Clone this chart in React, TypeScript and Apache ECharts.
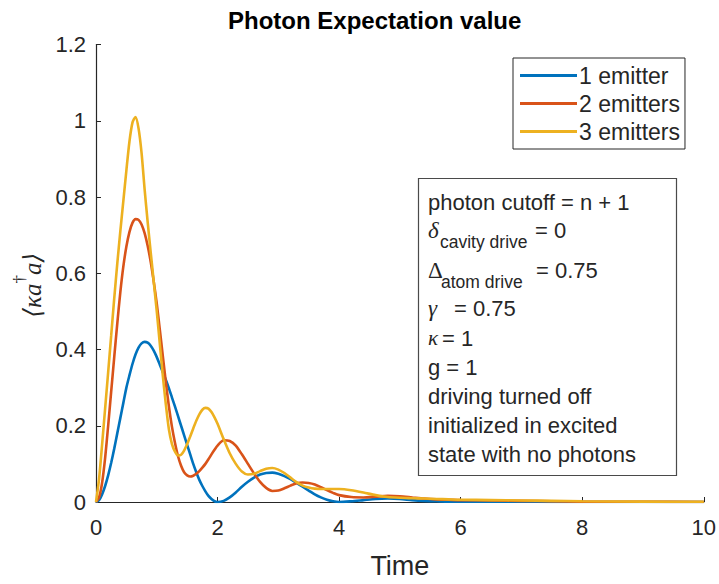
import React, { useEffect, useRef } from "react";
import * as echarts from "echarts";

// time samples (shared by all series)
const TIME = [
  0, 0.05, 0.1, 0.15, 0.2, 0.25, 0.3, 0.35, 0.4, 0.45,
  0.5, 0.55, 0.6, 0.65, 0.7, 0.75, 0.8, 0.85, 0.9, 0.95,
  1.0, 1.05, 1.1, 1.15, 1.2, 1.25, 1.3, 1.35, 1.4, 1.45,
  1.5, 1.55, 1.6, 1.65, 1.7, 1.75, 1.8, 1.85, 1.9, 1.95,
  2.0, 2.1, 2.2, 2.3, 2.4, 2.5, 2.6, 2.7, 2.8, 2.9,
  3.0, 3.1, 3.2, 3.3, 3.4, 3.5, 3.6, 3.7, 3.8, 3.9,
  4.0, 4.2, 4.4, 4.6, 4.8, 5.0, 5.2, 5.4, 5.6, 5.8,
  6.0, 6.5, 7.0, 7.5, 8.0, 9.0, 10.0,
];

const ONE_EMITTER = [
  0, 0.005, 0.02, 0.042, 0.07, 0.103, 0.14, 0.18, 0.22, 0.26,
  0.3, 0.332, 0.362, 0.387, 0.405, 0.416, 0.42, 0.418, 0.41, 0.397,
  0.38, 0.36, 0.34, 0.32, 0.298, 0.274, 0.25, 0.225, 0.2, 0.175,
  0.15, 0.125, 0.1, 0.078, 0.058, 0.042, 0.028, 0.016, 0.008, 0.002,
  0.0, 0.003, 0.012, 0.025, 0.04, 0.053, 0.064, 0.072, 0.076, 0.077,
  0.074, 0.068, 0.06, 0.05, 0.04, 0.03, 0.02, 0.012, 0.006, 0.002,
  0.0, 0.002, 0.005, 0.008, 0.009, 0.008, 0.005, 0.003, 0.002, 0.001,
  0.001, 0.001, 0.001, 0, 0, 0, 0,
];

const TWO_EMITTERS = [
  0, 0.012, 0.05, 0.115, 0.2, 0.29, 0.38, 0.468, 0.55, 0.618,
  0.67, 0.708, 0.732, 0.742, 0.74, 0.728, 0.705, 0.672, 0.63, 0.578,
  0.52, 0.452, 0.382, 0.313, 0.25, 0.197, 0.155, 0.12, 0.095, 0.078,
  0.07, 0.067, 0.069, 0.074, 0.081, 0.09, 0.1, 0.112, 0.125, 0.137,
  0.148, 0.162, 0.16, 0.148, 0.125, 0.1, 0.075, 0.053, 0.037, 0.029,
  0.03, 0.036, 0.043, 0.049, 0.051, 0.05, 0.046, 0.039, 0.031, 0.024,
  0.018, 0.013, 0.012, 0.014, 0.016, 0.015, 0.012, 0.009, 0.007, 0.006,
  0.005, 0.004, 0.003, 0.002, 0.001, 0.0005, 0,
];

const THREE_EMITTERS = [
  0, 0.06, 0.15, 0.245, 0.34, 0.437, 0.534, 0.625, 0.71, 0.79,
  0.87, 0.945, 0.995, 1.01, 0.98, 0.915, 0.82, 0.735, 0.655, 0.578,
  0.5, 0.415, 0.33, 0.255, 0.19, 0.152, 0.132, 0.122, 0.124, 0.135,
  0.152, 0.172, 0.193, 0.213, 0.23, 0.242, 0.247, 0.245, 0.236, 0.222,
  0.205, 0.165, 0.128, 0.1, 0.08, 0.072, 0.074, 0.081, 0.087, 0.089,
  0.085, 0.076, 0.064, 0.052, 0.043, 0.038, 0.035, 0.034, 0.034, 0.034,
  0.034, 0.031, 0.025, 0.018, 0.013, 0.011, 0.01, 0.009, 0.008, 0.007,
  0.006, 0.005, 0.004, 0.003, 0.002, 0.001, 0.0005,
];

const SERIES_NAMES = ["1 emitter", "2 emitters", "3 emitters"];
const SERIES_VALUES = [ONE_EMITTER, TWO_EMITTERS, THREE_EMITTERS];
const COLORS = ["#0072BD", "#D95319", "#EDB120"];

const TITLE = "Photon Expectation value";
const X_NAME = "Time";
const Y_NAME = "{n|\u27E8\u03BAa}{s|\u2020}{n|a\u27E9}";

const SANS = "'Liberation Sans', Arial, Helvetica, sans-serif";
const SERIF = "'Liberation Serif', 'DejaVu Serif', 'Times New Roman', serif";
const INK = "#262626";

export default function App() {
  const ref = useRef<HTMLDivElement>(null);

  useEffect(() => {
    if (!ref.current) return;
    const chart = echarts.init(ref.current, null, { renderer: "svg" });

    const txt = (text: string, x: number, y: number, size: number, family = SANS, italic = false) => ({
      type: "text",
      x,
      y,
      z: 20,
      silent: true,
      style: {
        text,
        fill: INK,
        fontSize: size,
        fontFamily: family,
        fontStyle: italic ? "italic" : "normal",
        verticalAlign: "middle",
        align: "left",
      },
    });

    const option: any = {
      animation: false,
      backgroundColor: "#ffffff",
      title: {
        text: TITLE,
        left: 228,
        top: 8,
        padding: 0,
        textStyle: { fontFamily: SANS, fontSize: 24, fontWeight: "bold", color: "#000" },
      },
      grid: { left: 96, right: 15, top: 44.5, bottom: 80.5, containLabel: false },
      legend: {
        orient: "vertical",
        left: 513,
        top: 58,
        padding: [6, 5, 6, 7],
        itemGap: 5,
        itemWidth: 57,
        itemHeight: 3,
        icon: "rect",
        borderColor: INK,
        borderWidth: 1,
        backgroundColor: "#fff",
        data: SERIES_NAMES,
        textStyle: { fontFamily: SANS, fontSize: 23, color: INK, padding: [0, 0, 0, -3] },
      },
      xAxis: {
        type: "value",
        min: 0,
        max: 10,
        interval: 2,
        name: X_NAME,
        nameLocation: "middle",
        nameGap: 50,
        nameTextStyle: { fontFamily: SANS, fontSize: 27, color: INK },
        axisLine: { show: true, lineStyle: { color: INK, width: 1.2 } },
        axisTick: { show: true, inside: true, length: 5, lineStyle: { color: INK } },
        axisLabel: { fontFamily: SANS, fontSize: 22, color: INK, margin: 14 },
        splitLine: { show: false },
      },
      yAxis: {
        type: "value",
        min: 0,
        max: 1.2,
        interval: 0.2,
        name: Y_NAME,
        nameLocation: "middle",
        nameGap: 50,
        nameTextStyle: {
          color: INK,
          padding: [0, 24, 0, 0],
          rich: {
            n: { fontFamily: SERIF, fontStyle: "italic", fontSize: 25, color: INK, lineHeight: 34, verticalAlign: "bottom" },
            s: { fontFamily: SERIF, fontSize: 17, color: INK, lineHeight: 34, verticalAlign: "top" },
          },
        },
        axisLine: { show: true, lineStyle: { color: INK, width: 1.2 } },
        axisTick: { show: true, inside: true, length: 5, lineStyle: { color: INK } },
        axisLabel: { fontFamily: SANS, fontSize: 22, color: INK, margin: 10 },
        splitLine: { show: false },
      },
      series: SERIES_NAMES.map((name, i) => ({
        name,
        type: "line",
        data: TIME.map((t, j) => [t, SERIES_VALUES[i][j]]),
        smooth: 0.25,
        symbol: "none",
        showSymbol: false,
        lineStyle: { color: COLORS[i], width: 2.6 },
        itemStyle: { color: COLORS[i] },
        z: 2 + i,
      })),
      graphic: [
        {
          type: "rect",
          z: 10,
          shape: { x: 418.5, y: 178.5, width: 258, height: 297 },
          style: { fill: "#fff", stroke: "#4a4a4a", lineWidth: 1.2 },
          silent: true,
        },
        txt("photon cutoff = n + 1", 428, 202, 22),
        txt("\u03B4", 428, 230, 23, SERIF, true),
        txt("cavity drive", 440, 242, 17.5),
        txt("= 0", 535, 230, 22),
        txt("\u0394", 428, 270, 23, SERIF),
        txt("atom drive", 441, 282, 17.5),
        txt("= 0.75", 536, 270, 22),
        txt("\u03B3", 428, 308, 23, SERIF, true),
        txt("= 0.75", 454, 308, 22),
        txt("\u03BA", 428, 338, 21, SERIF, true),
        txt("= 1", 442, 338, 22),
        txt("g = 1", 428, 367, 22),
        txt("driving turned off", 428, 396, 22),
        txt("initialized in excited", 428, 425, 22),
        txt("state with no photons", 428, 454, 22),
      ],
    };

    chart.setOption(option);
    return () => chart.dispose();
  }, []);

  return (
    <div
      ref={ref}
      style={{ position: "absolute", left: 0, top: 0, width: 719, height: 584 }}
    />
  );
}
